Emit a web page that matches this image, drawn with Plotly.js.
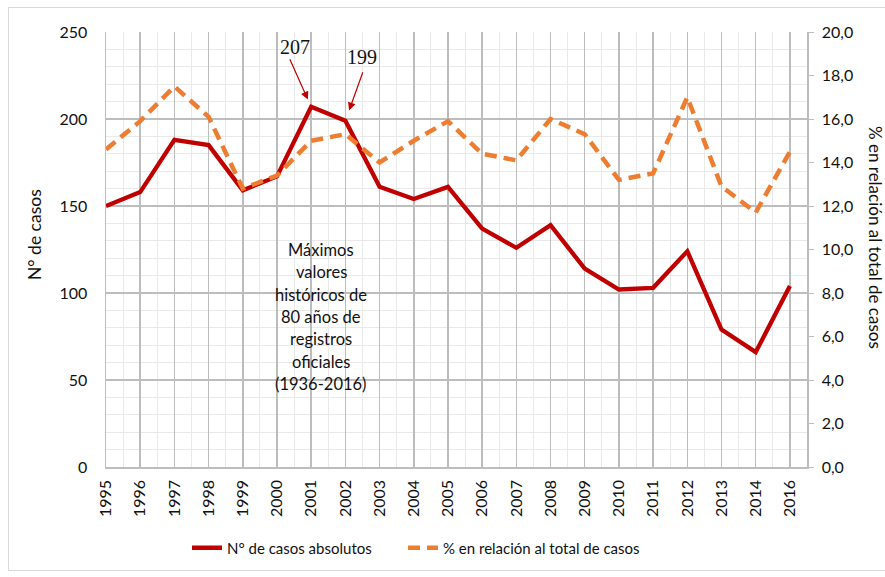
<!DOCTYPE html>
<html>
<head>
<meta charset="utf-8">
<script src="https://cdn.plot.ly/plotly-3.0.1.min.js"></script>
<style>
  html, body { margin: 0; padding: 0; background: #fff; }
  #wrap { position: relative; width: 885px; height: 577px; overflow: hidden; }
  #chart { width: 885px; height: 577px; }
  #frame { position: absolute; left: 8px; top: 7px; width: 885px; height: 562px; border: 1px solid #d9d9d9; pointer-events: none; }
</style>
</head>
<body>
<div id="wrap">
  <div id="chart"></div>
  <div id="frame"></div>
</div>
<script>
// ---- data ----
const years = ['1995','1996','1997','1998','1999','2000','2001','2002','2003','2004','2005',
               '2006','2007','2008','2009','2010','2011','2012','2013','2014','2016'];
const cases = [150, 158, 188, 185, 159, 167, 207, 199, 161, 154, 161,
               137, 126, 139, 114, 102, 103, 124, 79, 66, 104];
const pct   = [14.6, 15.9, 17.5, 16.1, 12.8, 13.4, 15.0, 15.3, 14.0, 15.0, 15.9,
               14.4, 14.1, 16.0, 15.3, 13.2, 13.5, 17.0, 12.9, 11.7, 14.5];
const seriesNames = ['N° de casos absolutos', '% en relación al total de casos'];
const leftTitle = 'N° de casos';
const rightTitle = '% en relación al total de casos';
const boxLines = ['Máximos', 'valores', 'históricos de', '80 años de', 'registros', 'oficiales', '(1936-2016)'];
const peakIdx = [6, 7];

// ---- layout helpers ----
const W = 885, H = 577;
const L = 106, R = 807, T = 32, B = 467;
const pw = R - L, ph = B - T;
const px2x = x => (x - L) / pw;
const py2y = y => (B - y) / ph;
const idx = years.map((_, i) => i);
const FONT = 'Lato, "Open Sans", "DejaVu Sans", sans-serif';
const RED = '#C00000', ORANGE = '#ED7D31';
const TXT = '#111111';

const traces = [
  { x: idx, y: cases, type: 'scatter', mode: 'lines', name: seriesNames[0],
    line: { color: RED, width: 4.3 }, xaxis: 'x', yaxis: 'y', hoverinfo: 'skip', legend: 'legend' },
  { x: idx, y: pct, type: 'scatter', mode: 'lines', name: seriesNames[1],
    line: { color: ORANGE, width: 4.5, dash: '12px,7px' }, xaxis: 'x', yaxis: 'y2', hoverinfo: 'skip', legend: 'legend2' }
];

const annotations = [];
// axis titles
annotations.push({ xref: 'paper', yref: 'paper', x: px2x(34), y: py2y(235), text: leftTitle,
  xanchor: 'center', yanchor: 'middle',
  textangle: -90, showarrow: false, font: { family: FONT, size: 17.5, color: TXT } });
annotations.push({ xref: 'paper', yref: 'paper', x: px2x(876), y: py2y(237), text: rightTitle,
  xanchor: 'center', yanchor: 'middle',
  textangle: 90, showarrow: false, font: { family: FONT, size: 17, color: TXT } });
// text box lines
boxLines.forEach((t, k) => {
  annotations.push({ xref: 'paper', yref: 'paper', x: px2x(321), y: py2y(250 + k * 22.3),
    text: t, showarrow: false, xanchor: 'center', yanchor: 'middle',
    font: { family: FONT, size: 16.5, color: TXT } });
});
// arrows to peaks
const arrowCfg = [ { ax: -22, ay: -49, standoff: 8, dx: -16, dy: 60 },
                   { ax: 18, ay: -50, standoff: 11, dx: 17, dy: 64 } ];
peakIdx.forEach((i, k) => {
  const c = arrowCfg[k];
  annotations.push({ x: i, y: cases[i], xref: 'x', yref: 'y', text: '', showarrow: true,
    ax: c.ax, ay: c.ay, arrowhead: 2, arrowsize: 1.3, arrowwidth: 1.2, arrowcolor: RED,
    standoff: c.standoff });
  annotations.push({ x: i, y: cases[i], xref: 'x', yref: 'y', text: String(cases[i]), showarrow: false,
    xshift: c.dx, yshift: c.dy, font: { family: '"Liberation Serif", "Times New Roman", serif', size: 20, color: '#111' } });
});

const legendBase = { orientation: 'h', xanchor: 'left', y: py2y(548), yanchor: 'middle',
  font: { family: FONT, size: 15, color: TXT }, bgcolor: 'rgba(0,0,0,0)' };

const layout = {
  width: W, height: H,
  margin: { l: L, r: W - R, t: T, b: H - B, pad: 0 },
  paper_bgcolor: '#fff', plot_bgcolor: '#fff',
  separators: ',.',
  showlegend: true,
  legend: Object.assign({}, legendBase, { x: px2x(187) }),
  legend2: Object.assign({}, legendBase, { x: px2x(403) }),
  xaxis: {
    range: [0, idx.length - 0.5], tickmode: 'array', tickvals: idx, ticktext: years, tickangle: -90,
    showgrid: true, gridcolor: '#BDBDBD', gridwidth: 1.5,
    minor: { tick0: 0, dtick: 0.5, showgrid: true, gridcolor: '#E9E9E9', gridwidth: 1 },
    showline: true, linecolor: '#BDBDBD', linewidth: 1.5, zeroline: false,
    ticks: 'outside', ticklen: 5, tickcolor: 'rgba(0,0,0,0)',
    tickfont: { family: FONT, size: 16, color: TXT }, fixedrange: true
  },
  yaxis: {
    range: [0, 250], dtick: 50, tick0: 0,
    showgrid: true, gridcolor: '#BDBDBD', gridwidth: 1.5,
    minor: { dtick: 10, showgrid: true, gridcolor: '#E9E9E9', gridwidth: 1 },
    showline: true, linecolor: '#BDBDBD', linewidth: 1.5, zeroline: false,
    ticks: 'outside', ticklen: 14, tickcolor: 'rgba(0,0,0,0)',
    tickfont: { family: FONT, size: 16, color: TXT }, fixedrange: true
  },
  yaxis2: {
    range: [0, 20], dtick: 2, tick0: 0, overlaying: 'y', side: 'right', tickformat: '.1f',
    showgrid: false, zeroline: false, showline: true, linecolor: '#BDBDBD', linewidth: 1.5,
    ticks: 'outside', ticklen: 5, tickcolor: '#BDBDBD', ticklabelstandoff: 5,
    tickfont: { family: FONT, size: 16, color: TXT }, fixedrange: true
  },
  shapes: [
    { type: 'rect', xref: 'paper', yref: 'paper', x0: px2x(256), x1: px2x(387), y0: py2y(397), y1: py2y(229),
      fillcolor: '#fff', line: { width: 0 }, layer: 'between' }
  ],
  annotations: annotations
};

Plotly.newPlot('chart', traces, layout, { displayModeBar: false, staticPlot: true });
</script>
</body>
</html>
